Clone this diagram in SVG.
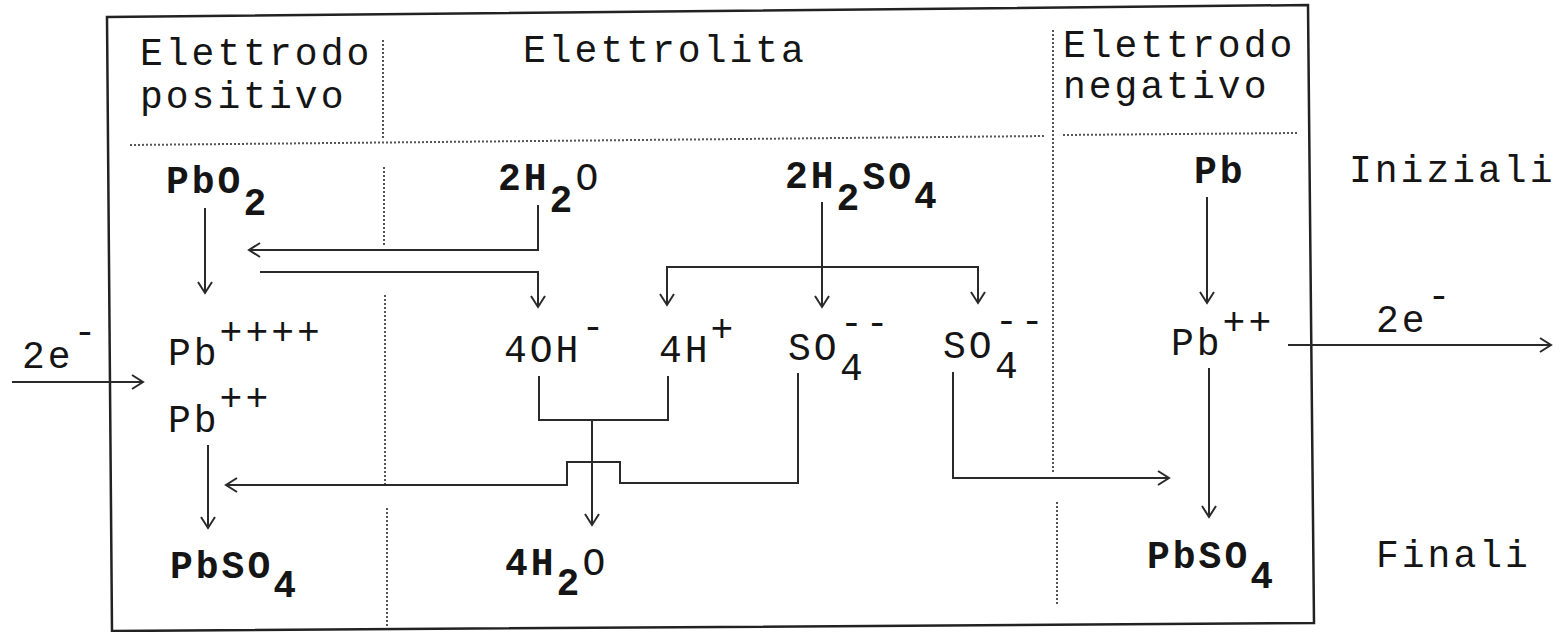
<svg xmlns="http://www.w3.org/2000/svg" width="1561" height="632" viewBox="0 0 1561 632">
<style>
text{font-family:"Liberation Mono","DejaVu Sans Mono",monospace;font-size:38px;letter-spacing:3px;fill:#151515}
.b{font-weight:bold}
.ln{stroke:#2a2a2a;stroke-width:2;fill:none}
.dot{stroke:#555;stroke-width:2;stroke-dasharray:2 2;fill:none}
.box{stroke:#222;stroke-width:2.5;fill:none}
</style>
<defs>
<marker id="ah" markerUnits="userSpaceOnUse" markerWidth="16" markerHeight="18" refX="13" refY="9" orient="auto-start-reverse">
<path d="M2,2 L13,9 L2,16" fill="none" stroke="#2a2a2a" stroke-width="2"/>
</marker>
</defs>
<rect width="1561" height="632" fill="#fff"/>
<g id="frame">
<path class="box" d="M107,17 L1308,5 L1314,623 L112,631 Z"/>
<path class="dot" d="M383,40 V140 M384,167 V247 M385,295 V484 M387,508 V627"/>
<path class="dot" d="M1053,30 V473 M1057,502 V605"/>
<path class="dot" d="M130,145 L1045,136 M1063,135 L1297,133"/>
</g>
<g id="headers">
<text x="140" y="65">Elettrodo</text>
<text x="140" y="108">positivo</text>
<text x="523" y="62">Elettrolita</text>
<text x="1063" y="57">Elettrodo</text>
<text x="1063" y="98">negativo</text>
<text x="1349" y="182">Iniziali</text>
<text x="1376" y="567">Finali</text>
</g>
<g id="n-PbO2"><text class="b" x="166" y="193">PbO<tspan y="215">2</tspan></text></g>
<g id="n-2H2O"><text class="b" x="498" y="190">2H<tspan y="212">2</tspan><tspan y="190" font-weight="normal">O</tspan></text></g>
<g id="n-2H2SO4"><text class="b" x="785" y="188">2H<tspan y="210">2</tspan><tspan y="189">SO</tspan><tspan y="208">4</tspan></text></g>
<g id="n-Pb"><text class="b" x="1194" y="183">Pb</text></g>
<g id="n-e-in"><text x="22" y="368">2e<tspan y="344">-</tspan></text></g>
<g id="n-Pb4"><text x="168" y="365">Pb<tspan y="344">++++</tspan></text></g>
<g id="n-Pb2-left"><text x="168" y="432">Pb<tspan y="410">++</tspan></text></g>
<g id="n-4OH"><text x="504" y="362">4OH<tspan y="339">-</tspan></text></g>
<g id="n-4H"><text x="659" y="362">4H<tspan y="341">+</tspan></text></g>
<g id="n-SO4-a"><text x="788" y="360">SO<tspan x="840" y="380">4</tspan><tspan x="840" y="335">--</tspan></text></g>
<g id="n-SO4-b"><text x="943" y="358">SO<tspan x="995" y="378">4</tspan><tspan x="995" y="333">--</tspan></text></g>
<g id="n-Pb2-right"><text x="1171" y="355">Pb<tspan y="334">++</tspan></text></g>
<g id="n-e-out"><text x="1376" y="332">2e<tspan y="308">-</tspan></text></g>
<g id="n-PbSO4-left"><text class="b" x="170" y="578">PbSO<tspan y="597">4</tspan></text></g>
<g id="n-4H2O"><text class="b" x="505" y="575">4H<tspan y="595">2</tspan><tspan y="575" font-weight="normal">O</tspan></text></g>
<g id="n-PbSO4-right"><text class="b" x="1147" y="568">PbSO<tspan y="588">4</tspan></text></g>
<g id="connectors">
<path class="ln" marker-end="url(#ah)" d="M205,208 V293"/>
<path class="ln" marker-end="url(#ah)" d="M538,205 V250 H249"/>
<path class="ln" marker-end="url(#ah)" d="M260,272 H538 V307"/>
<path class="ln" marker-end="url(#ah)" d="M822,202 V307"/>
<path class="ln" marker-start="url(#ah)" marker-end="url(#ah)" d="M667,305 V267 H978 V303"/>
<path class="ln" marker-end="url(#ah)" d="M1207,197 V303"/>
<path class="ln" marker-end="url(#ah)" d="M12,382 H143"/>
<path class="ln" marker-end="url(#ah)" d="M1288,345 H1551"/>
<path class="ln" marker-end="url(#ah)" d="M208,445 V528"/>
<path class="ln" marker-end="url(#ah)" d="M1209,368 V517"/>
<path class="ln" d="M539,376 V420 H668 V376"/>
<path class="ln" marker-end="url(#ah)" d="M592,420 V525"/>
<path class="ln" marker-end="url(#ah)" d="M798,373 V483 H620 V462 H567 V485 H226"/>
<path class="ln" marker-end="url(#ah)" d="M953,372 V478 H1169"/>
</g>
</svg>
